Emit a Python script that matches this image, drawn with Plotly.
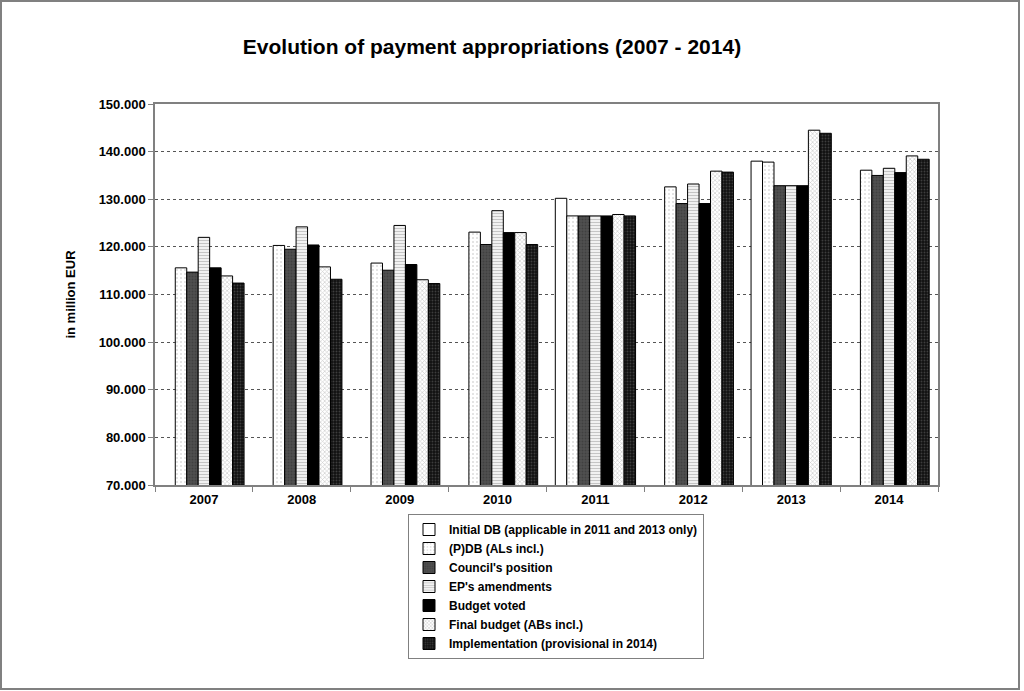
import plotly.graph_objects as go

years = ["2007", "2008", "2009", "2010", "2011", "2012", "2013", "2014"]

initial_db = [None, None, None, None, 130200, None, 138000, None]
pdb = [115600, 120300, 116600, 123100, 126500, 132600, 137800, 136100]
council = [114700, 119500, 115100, 120500, 126500, 129100, 132850, 135000]
ep_amend = [122000, 124200, 124500, 127600, 126500, 133200, 132850, 136500]
budget_voted = [115600, 120400, 116300, 123000, 126500, 129100, 132850, 135600]
final_budget = [113900, 115800, 113100, 123000, 126800, 135900, 144500, 139100]
implementation = [112400, 113200, 112300, 120500, 126500, 135700, 143850, 138400]

series_names = [
    "Initial DB (applicable in 2011 and 2013 only)",
    "(P)DB (ALs incl.)",
    "Council's position",
    "EP's amendments",
    "Budget voted",
    "Final budget (ABs incl.)",
    "Implementation (provisional in 2014)",
]
series_values = [initial_db, pdb, council, ep_amend, budget_voted, final_budget, implementation]

styles = [
    dict(bg="#ffffff", fg="#ffffff", shape="", size=4, sol=0.2),
    dict(bg="#ffffff", fg="#b8b8b8", shape=".", size=4, sol=0.2),
    dict(bg="#505050", fg="#303030", shape=".", size=3, sol=0.35),
    dict(bg="#ffffff", fg="#8c8c8c", shape="-", size=3, sol=0.5),
    dict(bg="#000000", fg="#000000", shape="", size=4, sol=0.2),
    dict(bg="#ffffff", fg="#9a9a9a", shape="x", size=3, sol=0.4),
    dict(bg="#111111", fg="#6a6a6a", shape=".", size=3, sol=0.3),
]

fig = go.Figure()
for name, vals, st in zip(series_names, series_values, styles):
    fig.add_trace(go.Bar(
        x=years, y=vals, name="<b>" + name + "</b>",
        marker=dict(
            color=st["bg"],
            line=dict(color="#000000", width=1),
            pattern=dict(shape=st["shape"], fgcolor=st["fg"], bgcolor=st["bg"],
                         size=st["size"], solidity=st["sol"], fillmode="overlay"),
        ),
    ))

font_family = "Liberation Sans, Arial, sans-serif"

fig.update_layout(
    width=1024, height=691,
    paper_bgcolor="white", plot_bgcolor="white",
    barmode="group", bargap=0.18, bargroupgap=0,
    separators=",.",
    margin=dict(l=155, r=86, t=104, b=206),
    font=dict(family=font_family, color="#000000"),
    title=dict(text="<b>Evolution of payment appropriations (2007 - 2014)</b>",
               x=492 / 1024, xanchor="center", y=1 - 47 / 691, yanchor="middle",
               font=dict(size=21, family=font_family, color="#000000")),
    legend=dict(
        x=(408 - 155) / 783, xanchor="left",
        y=(485 - 514) / 381, yanchor="top",
        bordercolor="#808080", borderwidth=1, bgcolor="white",
        font=dict(size=12, family=font_family, color="#000000"),
        itemwidth=30, tracegroupgap=0,
    ),
    xaxis=dict(
        type="category", showgrid=False,
        showline=True, linecolor="#808080", linewidth=1.5, mirror=True,
        ticks="outside", tickson="boundaries", ticklen=5, tickcolor="#808080",
        tickfont=dict(size=13, family=font_family, color="#000000"),
        ticklabelstandoff=2,
    ),
    yaxis=dict(
        range=[70000, 150000], dtick=10000, tickformat=",.0f",
        showgrid=True, gridcolor="#555555", griddash="dot", gridwidth=1,
        showline=True, linecolor="#808080", linewidth=1.5, mirror=True,
        ticks="outside", ticklen=5, tickcolor="#808080",
        tickfont=dict(size=13, family=font_family, color="#000000"),
        title=dict(text="<b>in million EUR</b>", standoff=20,
                   font=dict(size=13, family=font_family, color="#000000")),
        zeroline=False,
    ),
)

# bold tick labels
fig.update_xaxes(tickprefix="<b>", ticksuffix="</b>")
fig.update_yaxes(tickprefix="<b>", ticksuffix="</b>")

# outer frame around the whole chart
fig.add_shape(type="rect", xref="paper", yref="paper",
              x0=(1 - 155) / 783, x1=(1019 - 155) / 783,
              y0=(485 - 689) / 381, y1=(485 - 1) / 381,
              line=dict(color="#808080", width=2), fillcolor="rgba(0,0,0,0)", layer="below")

fig.write_html("out.html", config={"displayModeBar": False},
               post_script="document.body.style.margin='0';document.body.style.overflow='hidden';")
